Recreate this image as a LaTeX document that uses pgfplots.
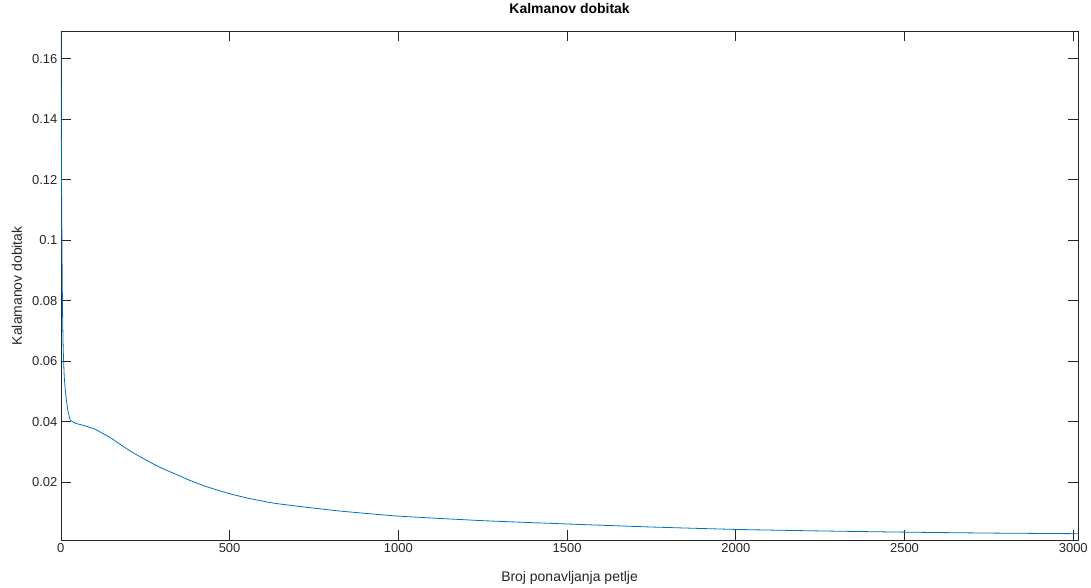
\documentclass[border=0pt]{standalone}
\usepackage{pgfplots}
\pgfplotsset{compat=1.18}
\usepackage{fontspec}
\setmainfont{Liberation Sans}
\definecolor{mlblue}{RGB}{0,114,189}
\definecolor{mlgray}{RGB}{38,38,38}
\begin{document}
\begin{tikzpicture}
\begin{axis}[
  at={(0,0)}, anchor=south west,
  scale only axis,
  width=1020pt, height=510pt,
  xmin=0, xmax=3015,
  ymin=0.00086, ymax=0.169,
  xtick={0,500,1000,1500,2000,2500,3000},
  ytick={0.02,0.04,0.06,0.08,0.1,0.12,0.14,0.16},
  scaled y ticks=false, scaled x ticks=false,
  tick pos=both, xticklabel pos=bottom, yticklabel pos=left,
  tick align=inside,
  major tick length=10pt,
  axis line style={mlgray, line width=0.6pt},
  every tick/.style={mlgray, line width=0.6pt},
  /pgf/number format/assume math mode=true,
  /pgf/number format/1000 sep={},
  yticklabel style={/pgf/number format/fixed, /pgf/number format/precision=2, font=\fontsize{13}{15}\selectfont, text=mlgray},
  xticklabel style={font=\fontsize{13}{15}\selectfont, text=mlgray},
  title={\textbf{Kalmanov dobitak}},
  title style={at={(0.5,1)}, anchor=center, yshift=17pt, font=\fontsize{14}{16}\selectfont, text=black},
  xlabel={Broj ponavljanja petlje},
  ylabel={Kalamanov dobitak},
  xlabel style={at={([yshift=-38pt]axis description cs:0.5,0)}, anchor=center, font=\fontsize{14}{16}\selectfont, text=mlgray},
  ylabel style={at={([xshift=-44pt]axis description cs:0,0.5)}, anchor=center, font=\fontsize{14}{16}\selectfont, text=mlgray},
]
\addplot[mlblue, line width=0.8pt, smooth, tension=0.3] coordinates {
(0,0.169) (1,0.145) (2,0.122) (3,0.103) (4,0.088) (5,0.077) (7,0.064) (10,0.055)
(14,0.0496) (20,0.0442) (27,0.0408) (35,0.0400) (45,0.0394) (60,0.0390)
(81,0.0383) (100,0.0376) (120,0.0364) (150,0.0345) (180,0.0322) (210,0.0300)
(240,0.0281) (280,0.0257) (310,0.0241) (350,0.0222) (380,0.0207) (430,0.0186)
(500,0.0162) (560,0.0146) (630,0.0131) (707,0.0120) (825,0.0105) (1000,0.0088)
(1250,0.0073) (1500,0.0062) (1750,0.0052) (2000,0.0044) (2250,0.0039)
(2500,0.0035) (2750,0.0032) (3000,0.0030) (3015,0.0030)
};
\end{axis}
\path[use as bounding box] (-61pt,-46pt) rectangle (1030pt,539pt);
\end{tikzpicture}
\end{document}
